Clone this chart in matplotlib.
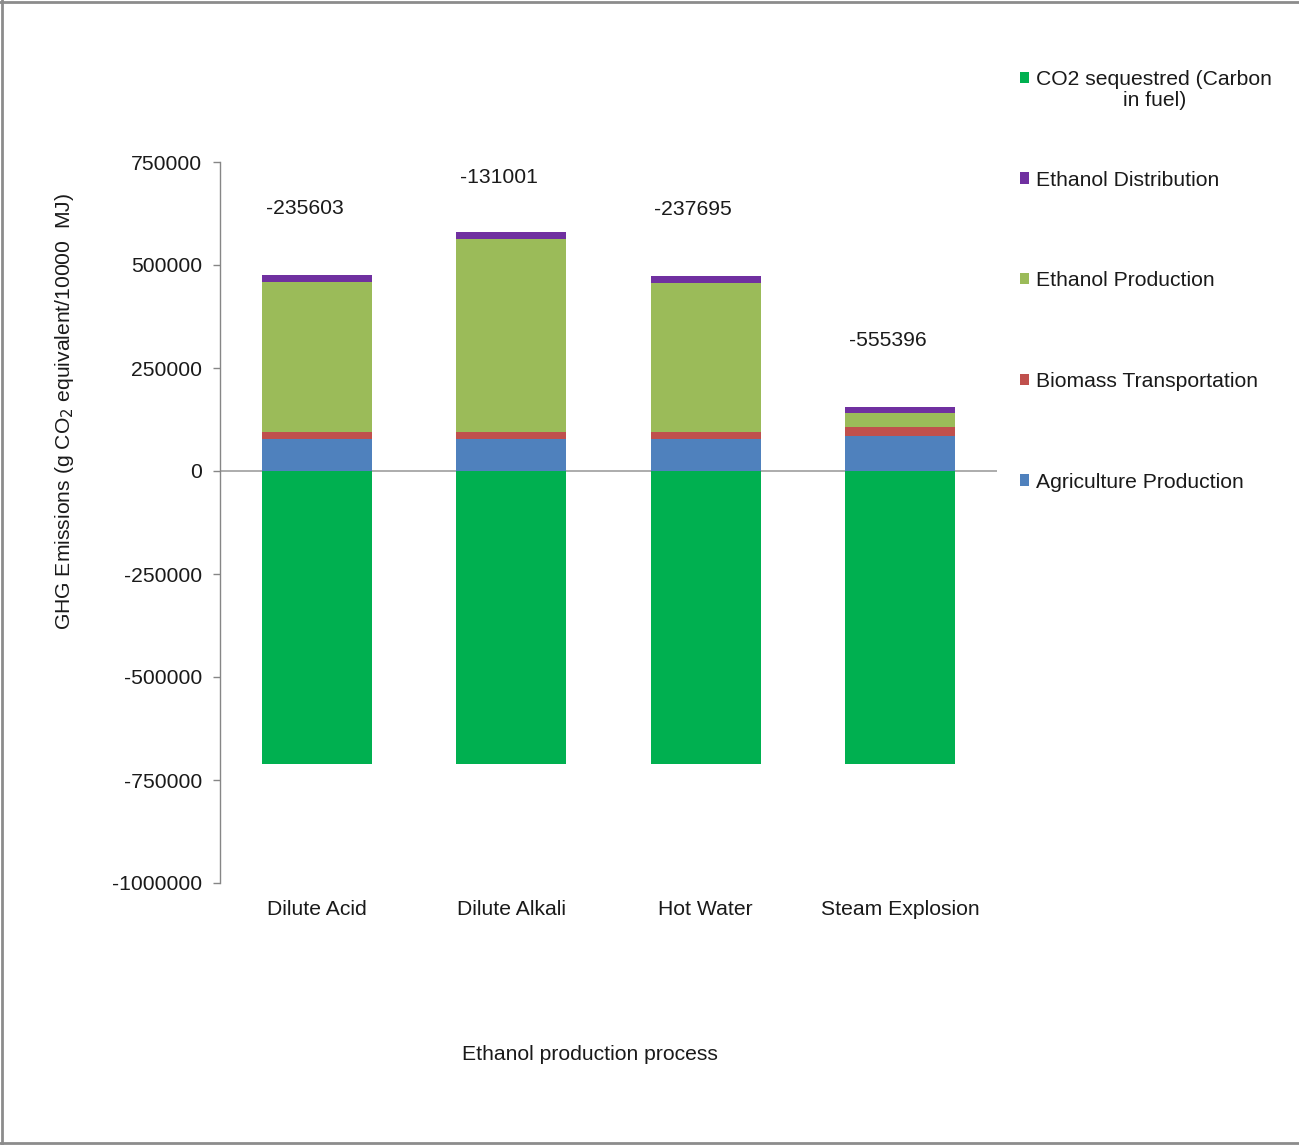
import numpy as np
import matplotlib
matplotlib.use('Agg')
import matplotlib.pyplot as plt
from matplotlib.lines import Line2D

plt.rcParams['font.family'] = ['Liberation Sans', 'DejaVu Sans']

processes = ['Dilute Acid', 'Dilute Alkali', 'Hot Water', 'Steam Explosion']
agriculture = [76700, 76700, 76700, 86100]
transport = [18700, 18700, 18700, 21900]
production = [364000, 468800, 361900, 31600]
distribution = [16300, 16100, 16300, 16300]
sequestered = [-711300, -711300, -711300, -711300]
net_labels = ['-235603', '-131001', '-237695', '-555396']

c_seq = '#00B050'
c_dist = '#7030A0'
c_prod = '#9BBB59'
c_trans = '#C0504D'
c_agri = '#4F81BD'
txt = '#1a1a1a'
fs = 15.2

fig = plt.figure(figsize=(12.99, 11.45), dpi=100)
ax = fig.add_axes([220 / 1299, 1 - 883 / 1145, (997 - 220) / 1299, (883 - 162) / 1145])

x = np.arange(len(processes))
w = 0.567
agri = np.array(agriculture)
tr = np.array(transport)
pr = np.array(production)
di = np.array(distribution)

b_seq = ax.bar(x, sequestered, w, color=c_seq, zorder=2)
b_agri = ax.bar(x, agri, w, color=c_agri, zorder=2)
b_tr = ax.bar(x, tr, w, bottom=agri, color=c_trans, zorder=2)
b_pr = ax.bar(x, pr, w, bottom=agri + tr, color=c_prod, zorder=2)
b_di = ax.bar(x, di, w, bottom=agri + tr + pr, color=c_dist, zorder=2)

# net value labels sit above each bar, kept inside the plot area
tops = agri + tr + pr + di
label_y = np.minimum(tops + 161000, 712000)
for i, lab in enumerate(net_labels):
    ax.annotate(lab, (x[i], label_y[i]), xytext=(-9, 0), textcoords='offset points',
                ha='center', va='center', fontsize=fs, color=txt)

ax.axhline(0, color='#A6A6A6', lw=1.3, zorder=1)
ax.set_xlim(-0.5, 3.5)
ax.set_ylim(-1000000, 750000)
yt = np.arange(-1000000, 750001, 250000)
ax.set_yticks(yt)
ax.set_yticklabels([str(v) for v in yt])
ax.set_xticks(x)
ax.set_xticklabels(processes)
ax.tick_params(axis='x', length=0, pad=12, labelsize=fs, labelcolor=txt)
ax.tick_params(axis='y', length=5, width=1, color='#868686', pad=8, labelsize=fs,
               labelcolor=txt, direction='out')
for s in ['top', 'right', 'bottom']:
    ax.spines[s].set_visible(False)
ax.spines['left'].set_color('#868686')
ax.spines['left'].set_linewidth(1)

fig.text(65 / 1299, 1 - 411 / 1145, 'GHG Emissions (g CO$_2$ equivalent/10000  MJ)',
         rotation=90, ha='center', va='center', fontsize=fs, color=txt)
fig.text(590 / 1299, 1 - 1054 / 1145, 'Ethanol production process',
         ha='center', va='center', fontsize=fs, color=txt)

handles = [b_seq, b_di, b_pr, b_tr, b_agri]
labels = ['CO2 sequestred (Carbon', 'Ethanol Distribution', 'Ethanol Production',
          'Biomass Transportation', 'Agriculture Production']
leg = fig.legend(handles, labels, loc='upper left', bbox_to_anchor=(1003 / 1299, 1 - 53 / 1145),
                 frameon=False, fontsize=fs, handlelength=0.45, handleheight=0.45,
                 handletextpad=0.3, labelspacing=3.87, borderpad=0.3)
for t in leg.get_texts():
    t.set_color(txt)
fig.text(1155 / 1299, 1 - 101 / 1145, 'in fuel)', ha='center', va='center',
         fontsize=fs, color=txt)

# figure border (top, left, bottom)
for xs, ys in [([0, 1], [0.9985, 0.9985]), ([0.0015, 0.0015], [0, 1]), ([0, 1], [0.0015, 0.0015])]:
    fig.add_artist(Line2D(xs, ys, transform=fig.transFigure, color='#8C8C8C', lw=2))

fig.savefig('out.png', dpi=100)
